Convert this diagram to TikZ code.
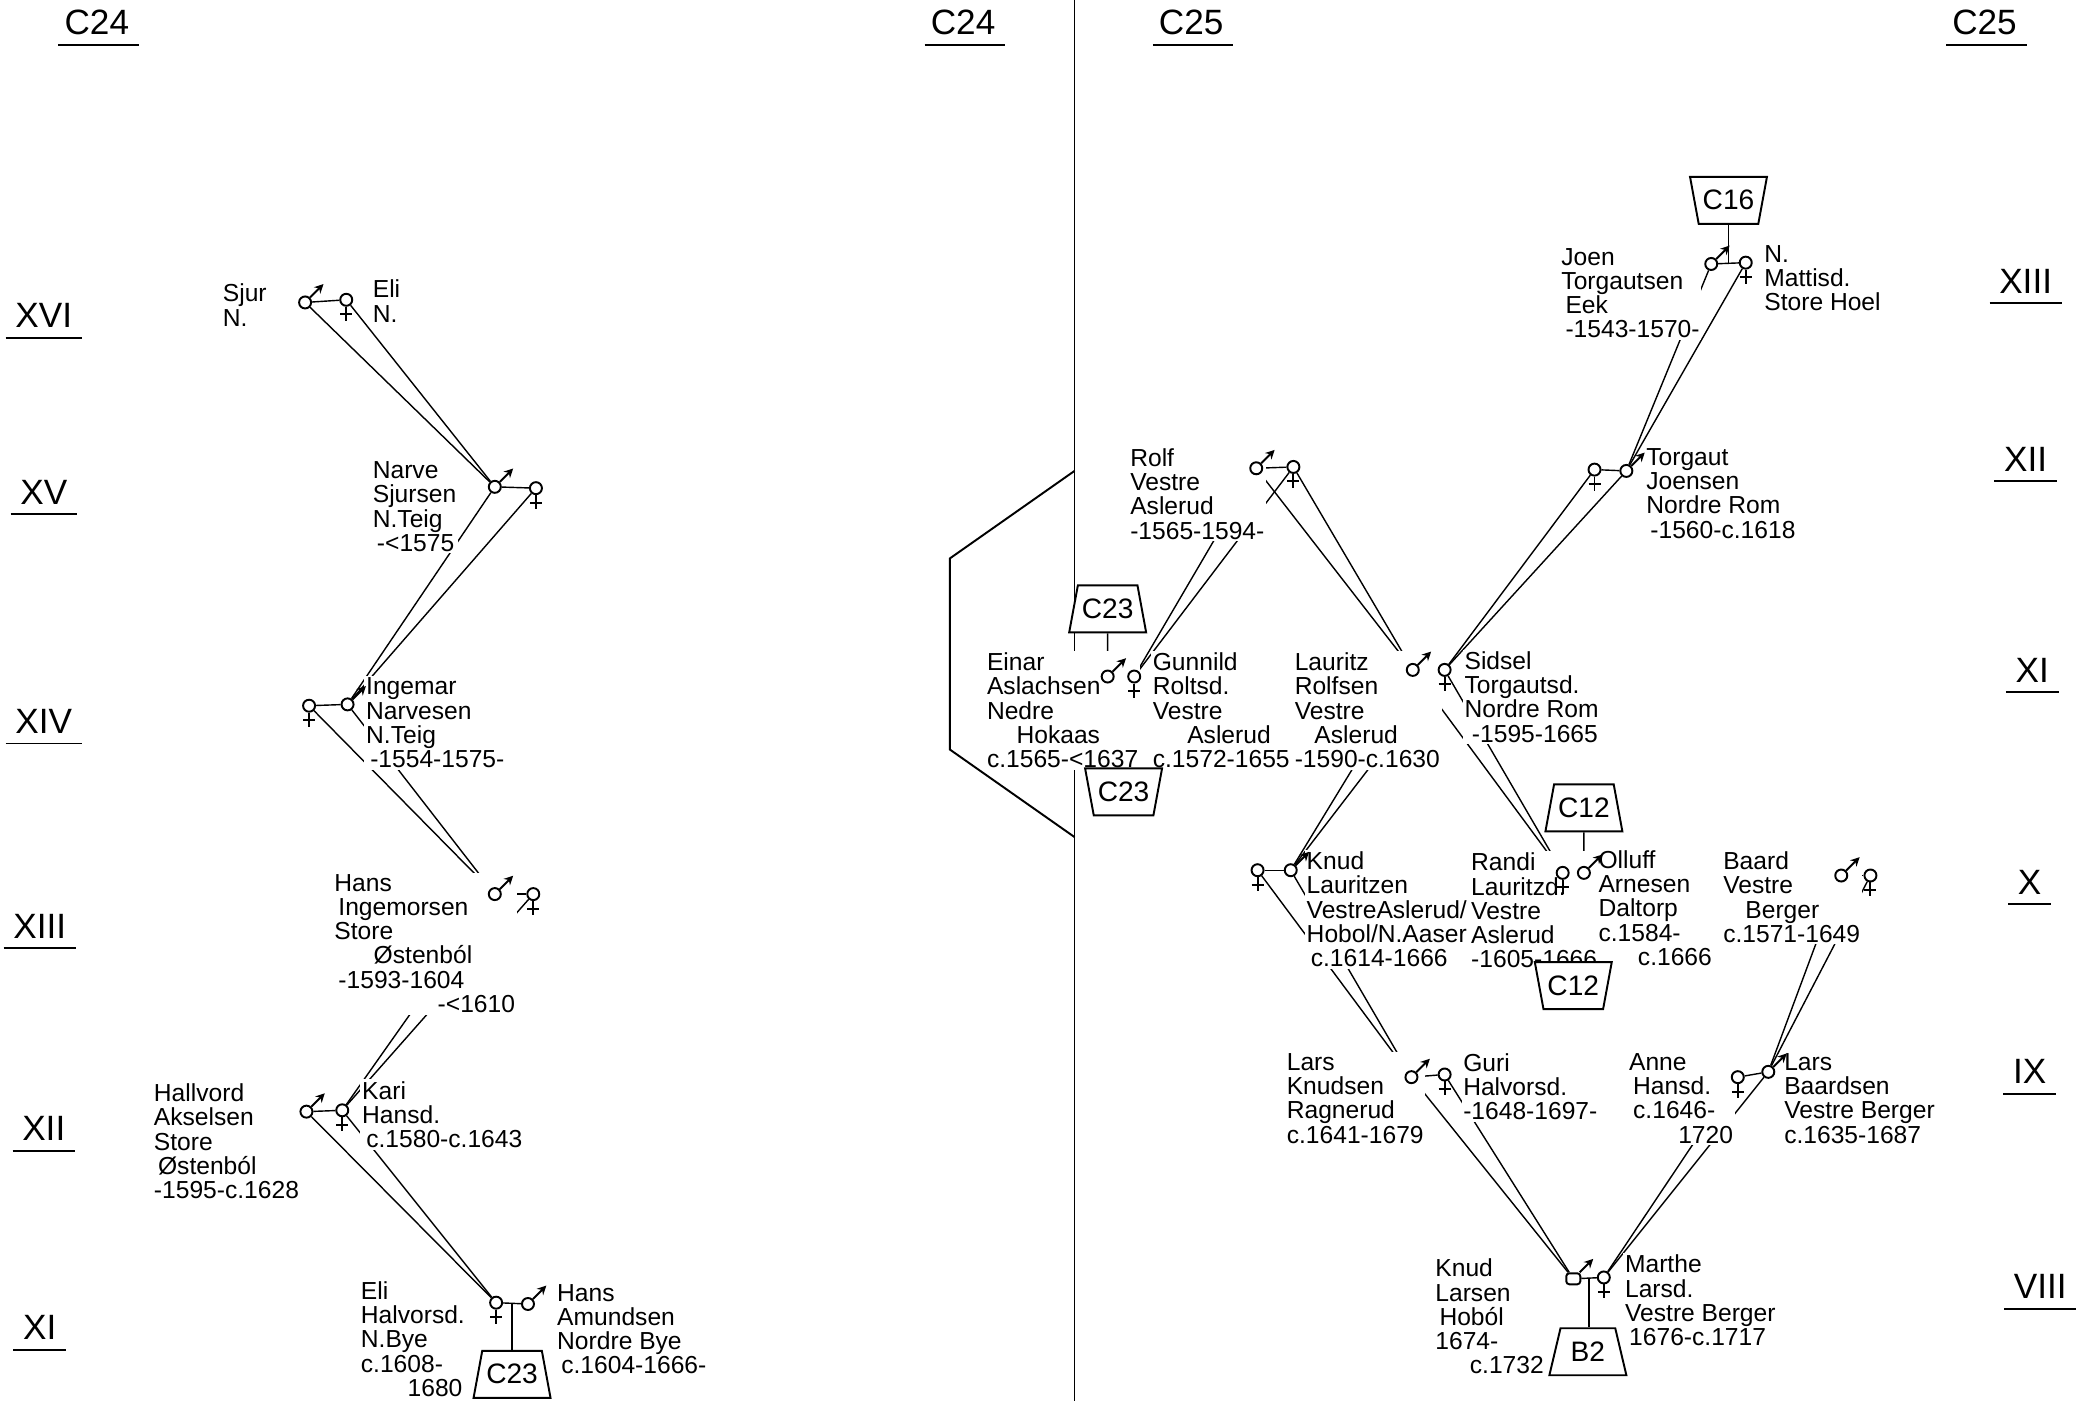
\documentclass[tikz,border=0pt]{standalone}
\usepackage{fontspec}
\newfontfamily\handfont{Liberation Sans}
\usetikzlibrary{arrows.meta,shapes.geometric}
\pgfdeclarelayer{lines}
\pgfsetlayers{lines,main}

\begin{document}
\begin{tikzpicture}[x=0.013265cm,y=-0.013265cm,line width=0.55pt,
  every node/.style={align=left,inner sep=0.5pt,font=\handfont\fontsize{7}{6.9}\selectfont},
  txt/.style={anchor=north west,fill=white},
  sym/.style={circle,draw,fill=white,inner sep=0pt,minimum size=1.2mm},
  male/.style={sym,append after command={(\tikzlastnode.45) edge[-{Stealth[length=0.9mm,width=0.9mm]}] +(45:1.9mm)}},
  female/.style={sym,append after command={(\tikzlastnode.south) edge +(0,-1.4mm) ([shift={(-0.6mm,-0.75mm)}]\tikzlastnode.south) edge +(1.2mm,0)}},
  ref/.style={trapezium,trapezium stretches=true,draw,fill=white,trapezium left angle=70,trapezium right angle=70,minimum width=0.77cm,minimum height=0.47cm,inner xsep=1pt,font=\handfont\fontsize{8}{8}\selectfont},
  refup/.style={ref,shape border rotate=180},
  head/.style={font=\handfont\fontsize{10}{10}\selectfont},
  gen/.style={font=\handfont\fontsize{10}{10}\selectfont}]
\useasboundingbox (0,0) rectangle (1568,1056);

% headings
\node[head] (hd1) at (73,17) {C24};
\node[head] (hd2) at (726,17) {C24};
\node[head] (hd3) at (898,17) {C25};
\node[head] (hd4) at (1496,17) {C25};
\foreach \h in {hd1,hd2,hd3,hd4}
  \draw ([xshift=-1pt,yshift=-2pt]\h.south west) -- ([xshift=2pt,yshift=-2pt]\h.south east);

% generations
\node[gen] (gl16) at (33,238) {XVI};
\node[gen] (gl15) at (33,371) {XV};
\node[gen] (gl14) at (33,544) {XIV};
\node[gen] (gl13) at (30,698) {XIII};
\node[gen] (gl12) at (33,851) {XII};
\node[gen] (gl11) at (30,1001) {XI};
\node[gen] (gr13) at (1527,212) {XIII};
\node[gen] (gr12) at (1527,346) {XII};
\node[gen] (gr11) at (1532,505) {XI};
\node[gen] (gr10) at (1530,665) {X};
\node[gen] (gr9) at (1530,808) {IX};
\node[gen] (gr8) at (1538,970) {VIII};
\foreach \g in {gl16,gl15,gl14,gl13,gl12,gl11,gr13,gr12,gr11,gr10,gr9,gr8}
  \draw ([xshift=-2pt,yshift=-2pt]\g.south west) -- ([xshift=2pt,yshift=-2pt]\g.south east);

% divider
\draw (810,0) -- (810,1056);
\draw (810,355) -- (716,421) -- (716,565) -- (810,631);

% ---- C24 texts
\node[txt] (tsjur) at (166,212) {Sjur\\N.};
\node[txt] (telin) at (279,209) {Eli\\N.};
\node[txt] (tnarve) at (279,346) {Narve\\Sjursen\\N.Teig\\\,-<1575};
\node[txt] (tingemar) at (274,509) {Ingemar\\Narvesen\\N.Teig\\\,-1554-1575-};
\node[txt] (thans) at (250,657) {Hans\\\,Ingemorsen\\Store\\\hspace{1.6em}Østenból\\\,-1593-1604\\\hspace{4.2em}-<1610};
\node[txt] (thallvord) at (114,815) {Hallvord\\Akselsen\\Store\\\,Østenból\\-1595-c.1628};
\node[txt] (tkari) at (271,813) {Kari\\Hansd.\\\,c.1580-c.1643};
\node[txt] (telih) at (270,964) {Eli\\Halvorsd.\\N.Bye\\c.1608-\\\hspace{1.9em}1680};
\node[txt] (thansa) at (418,966) {Hans\\Amundsen\\Nordre Bye\\\,c.1604-1666-};

% ---- C24 people
\node[male] (sjur) at (230,228) {};
\node[female] (elin) at (261,226) {};
\node[male] (narve) at (373,367) {};
\node[female] (narvew) at (404,368) {};
\node[male] (ingemar) at (262,531) {};
\node[female] (ingemarw) at (233,532) {};
\node[male] (hans) at (373,674) {};
\node[female] (hansw) at (402,674) {};
\node[male] (hallvord) at (231,838) {};
\node[female] (kari) at (258,837) {};
\node[female] (elih) at (374,982) {};
\node[male] (hansa) at (398,983) {};
\node[ref] (cxxiiia) at (386,1036) {C23};

% ---- C25 texts
\node[txt] (tjoen) at (1175,185) {Joen\\Torgautsen\\\,Eek\\\,-1543-1570-};
\node[txt] (tmattis) at (1328,183) {N.\\Mattisd.\\Store Hoel};
\node[txt] (ttorgaut) at (1239,336) {Torgaut\\Joensen\\Nordre Rom\\\,-1560-c.1618};
\node[txt] (trolf) at (850,336) {Rolf\\Vestre\\Aslerud\\-1565-1594-};
\node[txt] (teinar) at (742,490) {Einar\\Aslachsen\\Nedre\\\hspace{1.2em}Hokaas\\c.1565-<1637};
\node[txt] (tgunnild) at (867,490) {Gunnild\\Roltsd.\\Vestre\\\hspace{1.4em}Aslerud\\c.1572-1655};
\node[txt] (tlauritz) at (974,490) {Lauritz\\Rolfsen\\Vestre\\\hspace{0.8em}Aslerud\\-1590-c.1630};
\node[txt] (tsidsel) at (1102,489) {Sidsel\\Torgautsd.\\Nordre Rom\\\hspace{0.3em}-1595-1665};
\node[txt] (tknud) at (983,640) {Knud\\Lauritzen\\VestreAslerud/\\Hobol/N.Aaser\\\,c.1614-1666};
\node[txt] (trandi) at (1107,641) {Randi\\Lauritzd.\\Vestre\\Aslerud\\-1605-1666-};
\node[txt] (tolluff) at (1203,639) {Olluff\\Arnesen\\Daltorp\\c.1584-\\\hspace{1.6em}c.1666};
\node[txt] (tbaard) at (1297,640) {Baard\\Vestre\\\hspace{0.9em}Berger\\c.1571-1649};
\node[txt] (tlarsk) at (968,792) {Lars\\Knudsen\\Ragnerud\\c.1641-1679};
\node[txt] (tguri) at (1101,792) {Guri\\Halvorsd.\\-1648-1697-};
\node[txt] (tanne) at (1226,792) {Anne\\\,Hansd.\\\,c.1646-\\\hspace{2em}1720};
\node[txt] (tlarsb) at (1343,792) {Lars\\Baardsen\\Vestre Berger\\c.1635-1687};
\node[txt] (tknudl) at (1080,947) {Knud\\Larsen\\\,Hoból\\1674-\\\hspace{1.4em}c.1732};
\node[txt] (tmarthe) at (1223,944) {Marthe\\Larsd.\\Vestre Berger\\\,1676-c.1717};

% ---- C25 people
\node[male] (joen) at (1290,199) {};
\node[female] (mattis) at (1316,198) {};
\node[refup] (cxvi) at (1303,151) {C16};
\node[male] (torgaut) at (1226,355) {};
\node[female] (torgautw) at (1202,354) {};
\node[male] (rolf) at (947,353) {};
\node[female] (rolfw) at (975,352) {};
\node[male] (einar) at (835,510) {};
\node[female] (gunnild) at (855,510) {};
\node[ref] (cxxiiib) at (835,459) {C23};
\node[refup] (cxxiiic) at (847,597) {C23};
\node[male] (lauritz) at (1065,505) {};
\node[female] (sidsel) at (1089,505) {};
\node[male] (knud) at (973,656) {};
\node[female] (knudw) at (948,656) {};
\node[female] (randi) at (1178,658) {};
\node[male] (olluff) at (1194,658) {};
\node[ref] (cxiia) at (1194,609) {C12};
\node[refup] (cxiib) at (1186,743) {C12};
\node[male] (baard) at (1388,660) {};
\node[female] (baardw) at (1410,660) {};
\node[male] (larsk) at (1064,812) {};
\node[female] (guri) at (1089,810) {};
\node[female] (anne) at (1310,812) {};
\node[male] (larsb) at (1333,808) {};
\node[male,rectangle,rounded corners=0.3mm,minimum width=1.4mm,minimum height=1.1mm] (knudl) at (1186,964) {};
\node[female] (marthe) at (1209,963) {};
\node[ref] (bii) at (1197,1019) {B2};

\begin{pgfonlayer}{lines}
% couples
\draw (sjur) -- (elin);
\draw (narve) -- (narvew);
\draw (ingemarw) -- (ingemar);
\draw (hans) -- (hansw);
\draw (hallvord) -- (kari);
\draw (elih) -- coordinate (mhansa) (hansa);
\draw (mhansa) -- (mhansa |- cxxiiia.north);
\draw (joen) -- coordinate (mjoen) (mattis);
\draw (mjoen) -- (mjoen |- cxvi.south);
\draw (torgautw) -- (torgaut);
\draw (rolf) -- (rolfw);
\draw (einar) -- coordinate (meinar) (gunnild);
\draw (cxxiiib.south) -- (einar);
\draw (meinar) -- (meinar |- cxxiiic.north);
\draw (lauritz) -- (sidsel);
\draw (knudw) -- (knud);
\draw (randi) -- coordinate (mrandi) (olluff);
\draw (cxiia.south) -- (olluff);
\draw (mrandi) -- (mrandi |- cxiib.north);
\draw (baard) -- (baardw);
\draw (larsk) -- (guri);
\draw (anne) -- (larsb);
\draw (knudl) -- coordinate (mknudl) (marthe);
\draw (mknudl) -- (mknudl |- bii.north);
% descent, C24
\draw (sjur) -- (narve);
\draw (elin) -- (narve);
\draw (narve) -- (ingemar);
\draw (narvew) -- (ingemar);
\draw (ingemarw) -- (hans);
\draw (ingemar) -- (hans);
\draw (hans) -- (kari);
\draw (hansw) -- (kari);
\draw (hallvord) -- (elih);
\draw (kari) -- (elih);
% descent, C25
\draw (joen) -- (torgaut);
\draw (mattis) -- (torgaut);
\draw (torgaut) -- (sidsel);
\draw (torgautw) -- (sidsel);
\draw (rolf) -- (gunnild);
\draw (rolfw) -- (gunnild);
\draw (rolf) -- (lauritz);
\draw (rolfw) -- (lauritz);
\draw (lauritz) -- (knud);
\draw (sidsel) -- (knud);
\draw (lauritz) -- (randi);
\draw (sidsel) -- (randi);
\draw (knudw) -- (larsk);
\draw (knud) -- (larsk);
\draw (baard) -- (larsb);
\draw (baardw) -- (larsb);
\draw (larsk) -- (knudl);
\draw (guri) -- (knudl);
\draw (anne) -- (marthe);
\draw (larsb) -- (marthe);
\end{pgfonlayer}
\end{tikzpicture}
\end{document}
